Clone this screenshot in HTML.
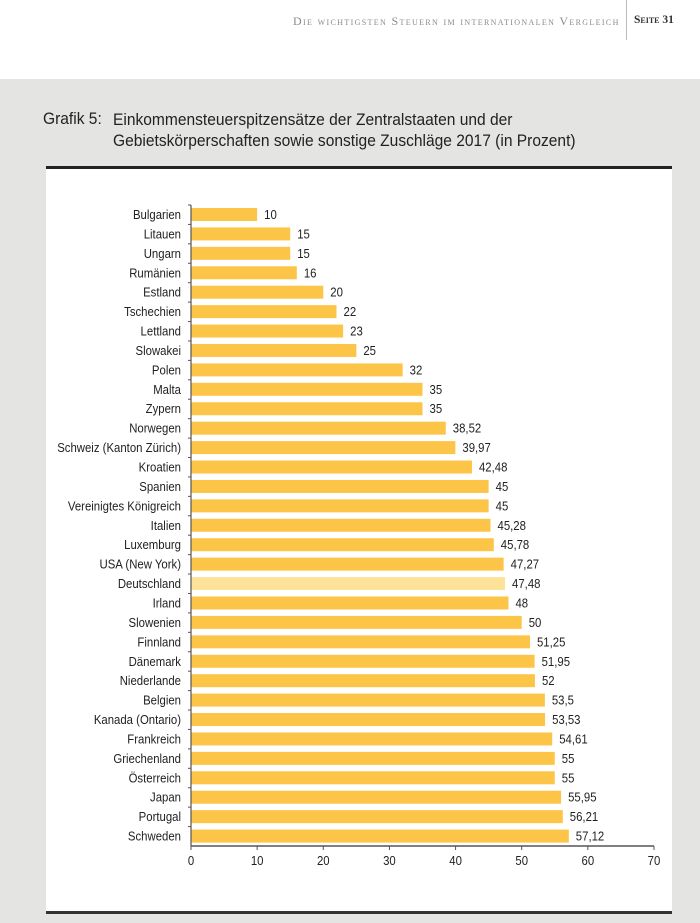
<!DOCTYPE html>
<html><head><meta charset="utf-8"><style>
body{margin:0;width:700px;height:923px;background:#fff;overflow:hidden;font-family:"Liberation Sans",sans-serif}
#gray{position:absolute;left:0;top:79px;width:700px;height:844px;background:#e4e4e3}
#box{position:absolute;left:46px;top:166px;width:626px;height:748px;background:#fff;border-top:3px solid #222;border-bottom:3px solid #333;box-sizing:border-box}
#hdr{position:absolute;left:293px;top:14px;font-family:"Liberation Serif",serif;font-size:12px;color:#8a8a8a;letter-spacing:1.35px;font-variant:small-caps;white-space:nowrap}
#pg{position:absolute;left:634px;top:14px;font-family:"Liberation Serif",serif;font-size:11.5px;color:#333;font-weight:bold;font-variant:small-caps}
#sep{position:absolute;left:626px;top:0;width:1px;height:40px;background:#bbb}
.t{position:absolute;font-size:17px;color:#222;transform-origin:0 0;transform:scaleX(0.915);white-space:nowrap}
svg{position:absolute;left:0;top:0}
</style></head><body>
<div id="hdr">Die wichtigsten Steuern im internationalen Vergleich</div>
<div id="sep"></div>
<div id="pg">Seite 31</div>
<div id="gray"></div>
<div class="t" style="left:43px;top:109px">Grafik 5:</div>
<div class="t" style="left:113px;top:109px;line-height:21px">Einkommensteuerspitzensätze der Zentralstaaten und der<br>Gebietskörperschaften sowie sonstige Zuschläge 2017 (in Prozent)</div>
<div id="box"></div>
<svg id="c" width="700" height="923"></svg>
<script>
const categories=["Bulgarien","Litauen","Ungarn","Rumänien","Estland","Tschechien","Lettland","Slowakei","Polen","Malta","Zypern","Norwegen","Schweiz (Kanton Zürich)","Kroatien","Spanien","Vereinigtes Königreich","Italien","Luxemburg","USA (New York)","Deutschland","Irland","Slowenien","Finnland","Dänemark","Niederlande","Belgien","Kanada (Ontario)","Frankreich","Griechenland","Österreich","Japan","Portugal","Schweden"];
const values=[10,15,15,16,20,22,23,25,32,35,35,38.52,39.97,42.48,45,45,45.28,45.78,47.27,47.48,48,50,51.25,51.95,52,53.5,53.53,54.61,55,55,55.95,56.21,57.12];
const valueLabels=["10","15","15","16","20","22","23","25","32","35","35","38,52","39,97","42,48","45","45","45,28","45,78","47,27","47,48","48","50","51,25","51,95","52","53,5","53,53","54,61","55","55","55,95","56,21","57,12"];
const ticks=[0,10,20,30,40,50,60,70];
const highlight="Deutschland";
const svg=document.getElementById('c');const NS='http://www.w3.org/2000/svg';
const x0=191,x1=654,xmax=70,yTop=205,yBot=846;
const X=v=>x0+(x1-x0)*v/xmax;
const step=(yBot-yTop)/categories.length;
const Y=i=>yTop+step*i;
function mk(t,a){const e=document.createElementNS(NS,t);for(const k in a)e.setAttribute(k,a[k]);svg.appendChild(e);return e;}
function txt(s,x,y,anchor){const e=mk('text',{x:0,y:0,'text-anchor':anchor,'font-size':13,fill:'#222',transform:'translate('+x+','+y+') scale(0.875,1)'});e.textContent=s;return e;}
categories.forEach((c,i)=>{
 const y=Y(i);
 const r=mk('rect',{x:x0,y:y+3,width:X(values[i])-x0,height:13,fill:c===highlight?'#fde39a':'#fdc548'});
 
 
 const l=txt(c,181,y+14,'end');
 
 
 const v=txt(valueLabels[i],X(values[i])+7,y+14,'start');
 
 
 const tk=mk('line',{x1:x0-3,x2:x0,y1:y,y2:y,stroke:'#555','stroke-width':1});
 
 
});
const ya=mk('line',{x1:x0,x2:x0,y1:yTop,y2:yBot,stroke:'#555','stroke-width':1.2});


const xa=mk('line',{x1:x0,x2:x1,y1:yBot,y2:yBot,stroke:'#555','stroke-width':1.5});


ticks.forEach(t=>{
 const k=mk('line',{x1:X(t),x2:X(t),y1:yBot,y2:yBot+4,stroke:'#555','stroke-width':1});
 
 
 const l=txt(String(t),X(t),yBot+19,'middle');
 
 
});
</script>
</body></html>
